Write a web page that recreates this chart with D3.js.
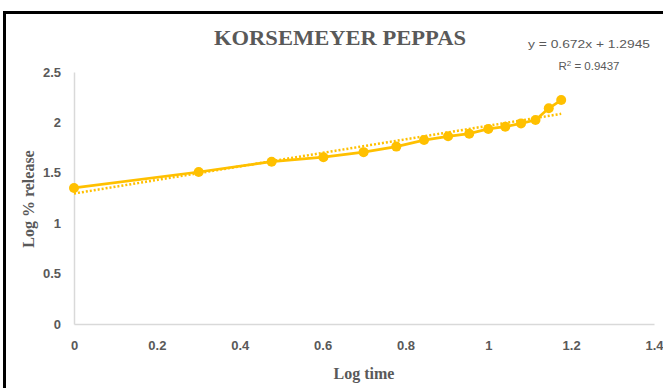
<!DOCTYPE html>
<html><head><meta charset="utf-8">
<script src="https://cdn.jsdelivr.net/npm/d3@7"></script>
<style>
html,body{margin:0;padding:0;background:#fff;}
svg{display:block;}
</style></head>
<body>
<svg id="chart" width="663" height="388"></svg>
<script>
const logTime = [0, 0.301, 0.477, 0.602, 0.699, 0.778, 0.845, 0.903, 0.954, 1.0, 1.041, 1.079, 1.114, 1.146, 1.176];
const logRelease = [1.35, 1.508, 1.61, 1.655, 1.705, 1.76, 1.825, 1.862, 1.888, 1.935, 1.957, 1.99, 2.024, 2.14, 2.222];
const xTicks = [0, 0.2, 0.4, 0.6, 0.8, 1, 1.2, 1.4];
const yTicks = [0, 0.5, 1, 1.5, 2, 2.5];
const trendSlope = 0.672;
const trendIntercept = 1.2945;
const trendR2 = 0.9437;

const svg = d3.select("#chart");
const x = d3.scaleLinear().domain([0, 1.4]).range([74, 654]);
const y = d3.scaleLinear().domain([0, 2.5]).range([324, 72]);
const color = "#FFC000";
const grey = "#595959";

// frame
svg.append("path").attr("d", "M4.5,388 L4.5,12.5 L663,12.5").attr("fill","none").attr("stroke","#000").attr("stroke-width",3);

// axes
const xAxis = svg.append("g").attr("transform", `translate(0,${y(0)})`)
  .call(d3.axisBottom(x).tickValues(xTicks).tickSize(0).tickPadding(17).tickFormat(d => d3.format("")(d)));
const yAxis = svg.append("g").attr("transform", `translate(${x(0)},0)`)
  .call(d3.axisLeft(y).tickValues(yTicks).tickSize(0).tickPadding(13).tickFormat(d => d3.format("")(d)));
[xAxis, yAxis].forEach(g => {
  g.select(".domain").attr("stroke", "#d9d9d9").attr("stroke-width", 1.5);
  g.selectAll("text").attr("fill", grey).attr("font-family", "'Liberation Sans Narrow','Liberation Sans',Arial,sans-serif")
    .attr("font-size", 13).attr("font-weight", "bold");
});

// trend line (dotted)
const tx = [0, logTime[logTime.length - 1]];
svg.append("line")
  .attr("x1", x(tx[0])).attr("y1", y(trendIntercept + trendSlope * tx[0]))
  .attr("x2", x(tx[1])).attr("y2", y(trendIntercept + trendSlope * tx[1]))
  .attr("stroke", color).attr("stroke-width", 2.5).attr("stroke-dasharray", "2,2");

// data line
const pts = logTime.map((t, i) => [t, logRelease[i]]);
svg.append("path").datum(pts)
  .attr("d", d3.line().x(d => x(d[0])).y(d => y(d[1])))
  .attr("fill", "none").attr("stroke", color).attr("stroke-width", 2.75);
svg.selectAll("circle.pt").data(pts).enter().append("circle")
  .attr("cx", d => x(d[0])).attr("cy", d => y(d[1])).attr("r", 5).attr("fill", color);

// title
svg.append("text").attr("x", 340).attr("y", 45).attr("text-anchor", "middle")
  .attr("font-family", "'Liberation Serif','Times New Roman',serif").attr("font-weight", "bold")
  .attr("font-size", 22).attr("fill", grey).attr("textLength", 252).attr("lengthAdjust", "spacingAndGlyphs")
  .text("KORSEMEYER PEPPAS");

// axis titles
svg.append("text").attr("x", 364).attr("y", 379).attr("text-anchor", "middle")
  .attr("font-family", "'Liberation Serif','Times New Roman',serif").attr("font-weight", "bold")
  .attr("font-size", 16).attr("fill", grey).text("Log time");
svg.append("text").attr("transform", "translate(34,199) rotate(-90)").attr("text-anchor", "middle")
  .attr("font-family", "'Liberation Serif','Times New Roman',serif").attr("font-weight", "bold")
  .attr("font-size", 16).attr("fill", grey).text("Log % release");

// equation
const eq = svg.append("text").attr("text-anchor", "middle")
  .attr("font-family", "'Liberation Sans Narrow','Liberation Sans',Arial,sans-serif")
  .attr("font-size", 11.5).attr("fill", grey);
eq.append("tspan").attr("x", 589).attr("y", 48).attr("textLength", 122).attr("lengthAdjust", "spacingAndGlyphs")
  .text(`y = ${trendSlope}x + ${trendIntercept}`);
const r = eq.append("tspan").attr("x", 589).attr("y", 70);
r.append("tspan").text("R");
r.append("tspan").attr("dy", -4).attr("font-size", 8).text("2");
r.append("tspan").attr("dy", 4).text(` = ${trendR2}`);
</script>
</body></html>
